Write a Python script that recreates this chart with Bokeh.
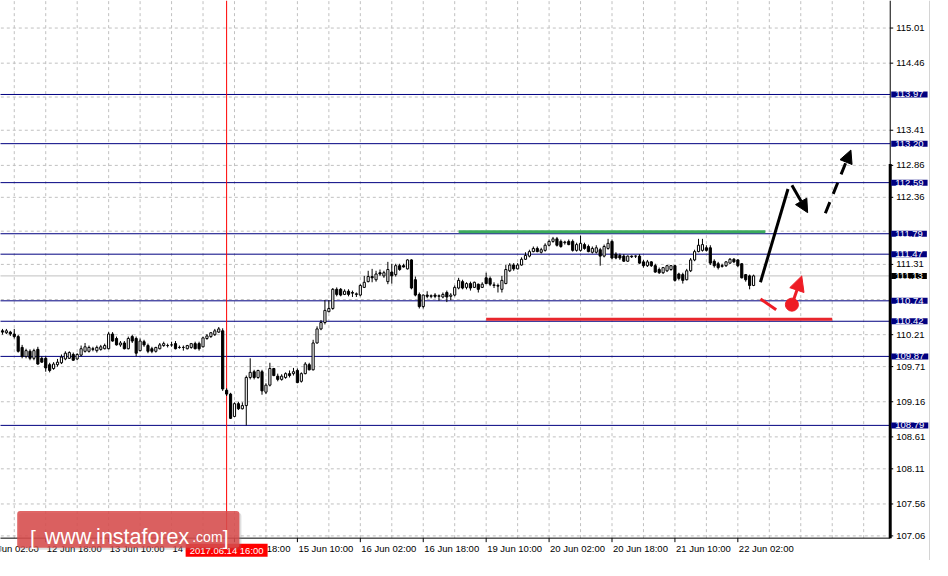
from bokeh.plotting import figure
from bokeh.models import Range1d, Label, Arrow, NormalHead, ColumnDataSource, BoxAnnotation
from bokeh.core.properties import value
from bokeh.embed import file_html
from bokeh.resources import INLINE

# ---------------- data (USD/JPY, H1 bars, bar index = hours from 12 Jun 02:00) -------------
first_bar = 5
opens = [110.27, 110.24, 110.25, 110.22, 110.18, 110.01, 109.87, 109.95, 109.84, 109.98,
         109.84, 109.84, 109.74, 109.68, 109.74, 109.77, 109.83, 109.84, 109.90, 109.83,
         109.89, 109.95, 109.95, 109.99, 109.96, 109.98, 109.99, 109.99, 110.22, 110.15,
         110.05, 110.08, 109.99, 110.18, 110.15, 109.96, 110.10, 110.04, 109.99, 109.95,
         109.99, 110.04, 110.04, 110.05, 110.07, 110.01, 110.01, 109.99, 110.01, 110.07,
         110.07, 110.02, 110.15, 110.18, 110.21, 110.25, 110.27, 109.34, 109.28, 108.93,
         109.13, 109.05, 109.10, 109.54, 109.63, 109.54, 109.63, 109.31, 109.42, 109.68,
         109.56, 109.51, 109.54, 109.60, 109.60, 109.65, 109.48, 109.60, 109.74, 109.66,
         110.08, 110.30, 110.40, 110.57, 110.62, 110.92, 110.92, 110.84, 110.89, 110.87,
         110.84, 110.83, 110.95, 111.04, 111.12, 111.07, 111.18, 111.13, 111.04, 111.19,
         111.15, 111.29, 111.29, 111.24, 111.38, 111.07, 110.84, 110.65, 110.83, 110.81,
         110.83, 110.81, 110.80, 110.87, 110.81, 110.83, 110.94, 111.04, 110.95, 111.01,
         110.95, 111.00, 110.95, 111.10, 111.09, 110.98, 110.98, 110.92, 111.01, 111.21,
         111.30, 111.24, 111.30, 111.39, 111.44, 111.51, 111.56, 111.50, 111.53, 111.61,
         111.67, 111.71, 111.67, 111.65, 111.67, 111.67, 111.53, 111.53, 111.62, 111.59,
         111.50, 111.50, 111.54, 111.44, 111.56, 111.67, 111.47, 111.45, 111.44, 111.36,
         111.44, 111.44, 111.44, 111.35, 111.29, 111.35, 111.29, 111.23, 111.18, 111.21,
         111.23, 111.29, 111.16, 111.15, 111.07, 111.21, 111.38, 111.51, 111.53, 111.57,
         111.57, 111.36, 111.32, 111.29, 111.29, 111.33, 111.39, 111.38, 111.32, 111.15,
         111.13, 110.98]
closes = [110.25, 110.27, 110.22, 110.18, 109.95, 109.87, 109.96, 109.84, 109.96, 109.75,
          109.78, 109.69, 109.65, 109.75, 109.78, 109.86, 109.92, 109.93, 109.81, 109.90,
          109.99, 110.02, 110.01, 109.98, 110.01, 110.02, 110.04, 110.22, 110.11, 110.05,
          110.08, 109.99, 110.15, 110.11, 109.92, 110.11, 110.05, 109.95, 109.95, 110.01,
          110.05, 110.07, 110.04, 110.05, 109.99, 110.01, 110.01, 110.04, 110.07, 109.99,
          109.99, 110.16, 110.19, 110.24, 110.27, 110.30, 109.36, 109.28, 108.90, 109.13,
          109.05, 109.10, 109.54, 109.62, 109.54, 109.65, 109.33, 109.42, 109.68, 109.57,
          109.51, 109.56, 109.60, 109.57, 109.63, 109.46, 109.60, 109.75, 109.66, 110.08,
          110.30, 110.40, 110.59, 110.62, 110.92, 110.84, 110.83, 110.89, 110.84, 110.86,
          110.85, 110.98, 111.03, 111.12, 111.10, 111.16, 111.16, 111.18, 111.23, 111.13,
          111.29, 111.23, 111.27, 111.38, 110.94, 110.83, 110.65, 110.83, 110.81, 110.82,
          110.81, 110.82, 110.84, 110.80, 110.83, 110.95, 111.06, 110.94, 111.01, 110.94,
          111.03, 110.92, 111.00, 111.01, 111.00, 110.99, 110.97, 111.06, 111.23, 111.30,
          111.24, 111.30, 111.39, 111.45, 111.51, 111.56, 111.51, 111.54, 111.61, 111.67,
          111.71, 111.61, 111.59, 111.66, 111.62, 111.53, 111.62, 111.64, 111.56, 111.51,
          111.56, 111.57, 111.44, 111.59, 111.64, 111.41, 111.41, 111.41, 111.36, 111.44,
          111.43, 111.44, 111.33, 111.29, 111.35, 111.29, 111.19, 111.18, 111.26, 111.29,
          111.29, 111.06, 111.09, 111.06, 111.21, 111.38, 111.51, 111.61, 111.62, 111.53,
          111.33, 111.29, 111.26, 111.28, 111.35, 111.39, 111.35, 111.29, 111.10, 111.07,
          110.98, 111.13]
highs = [110.30, 110.30, 110.27, 110.30, 110.21, 110.05, 109.99, 109.98, 109.99, 110.02,
         109.87, 109.87, 109.77, 109.78, 109.83, 109.90, 109.95, 109.95, 109.93, 109.92,
         110.04, 110.08, 110.04, 110.02, 110.04, 110.05, 110.07, 110.25, 110.25, 110.18,
         110.11, 110.11, 110.18, 110.21, 110.18, 110.15, 110.13, 110.07, 110.02, 110.02,
         110.08, 110.10, 110.07, 110.10, 110.11, 110.04, 110.04, 110.05, 110.08, 110.10,
         110.10, 110.18, 110.22, 110.25, 110.30, 110.33, 110.31, 109.37, 109.30, 109.15,
         109.16, 109.15, 109.57, 109.84, 109.66, 109.66, 109.66, 109.45, 109.77, 109.69,
         109.60, 109.59, 109.62, 109.65, 109.69, 109.68, 109.62, 109.78, 109.77, 110.13,
         110.34, 110.44, 110.75, 110.75, 110.94, 110.95, 110.94, 110.92, 110.92, 110.90,
         110.87, 111.00, 111.13, 111.21, 111.24, 111.21, 111.23, 111.21, 111.35, 111.32,
         111.32, 111.32, 111.32, 111.39, 111.39, 111.12, 110.87, 110.84, 110.89, 110.84,
         110.86, 110.84, 110.87, 110.90, 110.86, 110.98, 111.10, 111.07, 111.03, 111.04,
         111.04, 111.01, 111.03, 111.18, 111.12, 111.03, 111.01, 111.13, 111.30, 111.33,
         111.33, 111.33, 111.42, 111.50, 111.54, 111.59, 111.59, 111.57, 111.64, 111.70,
         111.74, 111.74, 111.70, 111.68, 111.70, 111.70, 111.65, 111.76, 111.65, 111.62,
         111.59, 111.61, 111.57, 111.62, 111.71, 111.70, 111.50, 111.48, 111.47, 111.45,
         111.45, 111.45, 111.47, 111.38, 111.38, 111.36, 111.32, 111.26, 111.27, 111.30,
         111.30, 111.30, 111.18, 111.18, 111.24, 111.41, 111.54, 111.71, 111.71, 111.61,
         111.61, 111.39, 111.35, 111.32, 111.36, 111.41, 111.41, 111.39, 111.33, 111.16,
         111.15, 111.15]
lows = [110.21, 110.22, 110.19, 110.15, 109.93, 109.84, 109.84, 109.81, 109.81, 109.74,
        109.77, 109.63, 109.62, 109.66, 109.71, 109.75, 109.81, 109.83, 109.80, 109.81,
        109.87, 109.93, 109.93, 109.95, 109.93, 109.96, 109.98, 109.98, 110.10, 110.04,
        110.02, 109.98, 109.98, 110.08, 109.87, 109.95, 110.02, 109.92, 109.92, 109.93,
        109.98, 110.02, 110.01, 110.02, 109.98, 109.99, 109.96, 109.98, 109.99, 109.98,
        109.96, 110.01, 110.13, 110.16, 110.19, 110.24, 109.33, 109.25, 108.89, 108.92,
        109.03, 109.04, 108.79, 109.51, 109.51, 109.52, 109.27, 109.28, 109.40, 109.56,
        109.48, 109.49, 109.52, 109.54, 109.57, 109.45, 109.46, 109.59, 109.65, 109.65,
        110.07, 110.28, 110.37, 110.56, 110.60, 110.81, 110.81, 110.83, 110.81, 110.80,
        110.80, 110.81, 110.94, 111.03, 111.03, 111.04, 111.13, 111.10, 111.00, 111.01,
        111.12, 111.21, 111.26, 111.23, 110.92, 110.81, 110.62, 110.62, 110.78, 110.78,
        110.78, 110.74, 110.78, 110.72, 110.75, 110.81, 110.92, 110.92, 110.92, 110.90,
        110.94, 110.87, 110.94, 111.00, 110.97, 110.94, 110.87, 110.87, 111.00, 111.19,
        111.21, 111.23, 111.29, 111.38, 111.42, 111.50, 111.50, 111.48, 111.51, 111.59,
        111.65, 111.59, 111.57, 111.62, 111.61, 111.51, 111.51, 111.51, 111.54, 111.50,
        111.48, 111.48, 111.29, 111.42, 111.54, 111.39, 111.39, 111.38, 111.35, 111.35,
        111.41, 111.41, 111.32, 111.26, 111.27, 111.27, 111.18, 111.16, 111.16, 111.19,
        111.21, 111.04, 111.06, 111.01, 111.06, 111.19, 111.36, 111.50, 111.51, 111.51,
        111.30, 111.26, 111.23, 111.26, 111.27, 111.32, 111.33, 111.27, 111.09, 111.04,
        110.92, 110.97]

x_tick_index = [0, 16, 32, 48, 64, 80, 96, 112, 128, 144, 160, 176, 192]
x_tick_labels = ["12 Jun 02:00", "12 Jun 18:00", "13 Jun 10:00", "14 Jun 02:00",
                 "14 Jun 18:00", "15 Jun 10:00", "16 Jun 02:00", "16 Jun 18:00",
                 "19 Jun 10:00", "20 Jun 02:00", "20 Jun 18:00", "21 Jun 10:00",
                 "22 Jun 02:00"]
x_grid_index = [0, 8, 16, 24, 32, 40, 48, 56, 64, 72, 80, 88, 96, 104, 112, 120, 128,
                136, 144, 152, 160, 168, 176, 184, 192, 200, 208, 216, 224]
y_tick_values = [107.06, 107.56, 108.11, 108.61, 109.16, 109.71, 110.21, 111.31,
                 112.36, 112.86, 113.41, 114.46, 115.01]
y_grid_values = [107.06, 107.56, 108.11, 108.61, 109.16, 109.71, 110.21, 110.76, 111.31,
                 111.83, 112.36, 112.86, 113.41, 113.93, 114.46, 115.01]
level_values = [113.97, 113.20, 112.59, 111.79, 111.47, 110.74, 110.42, 109.87, 108.79]
current_price = 111.13
event_bar = 62
event_text = "2017.06.14 16:00"

resistance_x = [121, 199]
resistance_y = [111.82, 111.82]
support_x = [128, 216]
support_y = [110.45, 110.45]
bull_leg_x = [197.75, 204.75]
bull_leg_y = [111.03, 112.49]
pullback = (205.75, 112.55, 209.75, 112.12)
breakout = (214.25, 112.11, 220.75, 113.10)
bear_leg_x = [197.75, 201.75]
bear_leg_y = [110.77, 110.60]
bear_point = (205.75, 110.68)
bear_arrow_tip = (208.25, 111.13)
scale_marker_top = 112.88

# chart area (bars / prices) inside the canvas; the rest holds the price and time scales
chart_x0, chart_x1 = 4.5, 230.75
chart_y0, chart_y1 = 107.025, 115.441
canvas_x1 = 241.5
canvas_y0 = 106.675
px_x = 932 / (canvas_x1 - chart_x0)          # pixels per bar
px_y = 560 / (chart_y1 - canvas_y0)          # pixels per yen

FONT = value("Liberation Sans")
FS = value("9.5px")

p = figure(width=932, height=560, x_range=Range1d(chart_x0, canvas_x1),
           y_range=Range1d(canvas_y0, chart_y1), output_backend="svg",
           toolbar_location=None, x_axis_location=None, y_axis_location=None,
           min_border=0, min_border_left=0, min_border_right=0,
           min_border_top=0, min_border_bottom=0)
p.outline_line_color = None
p.grid.visible = False
p.background_fill_color = "white"
p.border_fill_color = "white"

# dashed grid
p.segment(x0=x_grid_index, x1=x_grid_index, y0=[chart_y0] * len(x_grid_index),
          y1=[chart_y1] * len(x_grid_index), line_color="#c0c0c0", line_dash="3 3", line_width=1)
p.segment(x0=[0] * len(y_grid_values), x1=[chart_x1] * len(y_grid_values),
          y0=y_grid_values, y1=y_grid_values, line_color="#c0c0c0", line_dash="3 3", line_width=1)

# level lines and current price line
p.segment(x0=[0] * len(level_values), x1=[chart_x1] * len(level_values),
          y0=level_values, y1=level_values, line_color="#000080", line_width=1)
p.segment(x0=[0], x1=[chart_x1], y0=[current_price], y1=[current_price],
          line_color="#c0c0c0", line_width=1)

# event vertical line
p.segment(x0=[event_bar], x1=[event_bar], y0=[chart_y0 - 5 / px_y], y1=[chart_y1],
          line_color="#ff0000", line_width=1)

# candles
idx = list(range(first_bar, first_bar + len(opens)))
src = ColumnDataSource(dict(
    x=idx, h=highs, l=lows,
    top=[max(a, b) for a, b in zip(opens, closes)],
    bot=[min(a, b) for a, b in zip(opens, closes)],
    fill=["white" if c >= o else "black" for o, c in zip(opens, closes)],
))
p.segment(x0="x", y0="l", x1="x", y1="h", source=src, line_color="black", line_width=1)
p.vbar(x="x", width=0.55, top="top", bottom="bot", source=src,
       fill_color="fill", line_color="black", line_width=1)

# analysis drawings
p.line(resistance_x, resistance_y, line_color="#3aaa5c", line_width=3)
p.line(support_x, support_y, line_color="#e8262d", line_width=3)
p.line(bull_leg_x, bull_leg_y, line_color="black", line_width=3)
p.add_layout(Arrow(x_start=pullback[0], y_start=pullback[1], x_end=pullback[2], y_end=pullback[3],
                   line_color="black", line_width=3,
                   end=NormalHead(size=13, fill_color="black", line_color="black")))
p.add_layout(Arrow(x_start=breakout[0], y_start=breakout[1], x_end=breakout[2], y_end=breakout[3],
                   line_color="black", line_width=3, line_dash="12 9",
                   end=NormalHead(size=13, fill_color="black", line_color="black")))
p.line(bear_leg_x, bear_leg_y, line_color="#ee1c25", line_width=3)
p.add_layout(Arrow(x_start=bear_point[0], y_start=bear_point[1],
                   x_end=bear_arrow_tip[0], y_end=bear_arrow_tip[1],
                   line_color="#ee1c25", line_width=3,
                   end=NormalHead(size=15, fill_color="#ee1c25", line_color="#ee1c25")))
p.scatter([bear_point[0]], [bear_point[1]], size=13, marker="circle",
          fill_color="#ee1c25", line_color="#ee1c25")

# ---- price scale (right) ----
p.segment(x0=[chart_x1], x1=[chart_x1], y0=[chart_y0], y1=[chart_y1],
          line_color="black", line_width=1)
p.segment(x0=[chart_x1], x1=[chart_x1], y0=[chart_y0], y1=[scale_marker_top],
          line_color="black", line_width=3)
p.segment(x0=[chart_x1] * len(y_tick_values), x1=[chart_x1 + 3 / px_x] * len(y_tick_values),
          y0=y_tick_values, y1=y_tick_values, line_color="black", line_width=1)
p.text(x=[chart_x1] * len(y_tick_values), y=y_tick_values,
       text=[f"{v:.2f}" for v in y_tick_values], x_offset=6,
       text_font=FONT, text_font_size=FS, text_color="black",
       text_align="left", text_baseline="middle")
for lv in level_values + [current_price]:
    p.add_layout(Label(x=chart_x1, y=lv, x_offset=1, text=f"{lv:.2f}",
                       text_align="left", text_baseline="middle",
                       text_font="Liberation Sans", text_font_size="9.5px", text_color="white",
                       background_fill_color="black" if lv == current_price else "#000080",
                       padding=(4, 0)))
# light border at the right edge
p.segment(x0=[canvas_x1 - 3 / px_x], x1=[canvas_x1 - 3 / px_x], y0=[canvas_y0], y1=[chart_y1],
          line_color="#d4d4d4", line_width=1)

# ---- time scale (bottom) ----
p.segment(x0=[0], x1=[chart_x1], y0=[chart_y0], y1=[chart_y0], line_color="black", line_width=1)
p.segment(x0=x_tick_index, x1=x_tick_index, y0=[chart_y0] * len(x_tick_index),
          y1=[chart_y0 - 4 / px_y] * len(x_tick_index), line_color="black", line_width=1)
p.text(x=x_tick_index, y=[chart_y0 - 5 / px_y] * len(x_tick_index), text=x_tick_labels,
       x_offset=1, text_font=FONT, text_font_size=FS, text_color="black",
       text_align="left", text_baseline="top")

# event time label
p.add_layout(Label(x=event_bar, y=chart_y0 - 12 / px_y, text=event_text, text_align="center",
                   text_baseline="middle", text_font="Liberation Sans", text_font_size="9.5px",
                   text_color="white", background_fill_color="#ff0000", padding=(4, 1)))

# watermark
wm_left, wm_right, wm_top, wm_bottom = 8.75, 65.25, 107.45, 106.873
wm_baseline = 107.04
p.add_layout(BoxAnnotation(left=wm_left + 2 / px_x, right=wm_right + 2 / px_x,
                           top=wm_top - 2 / px_y, bottom=wm_bottom - 2 / px_y,
                           fill_color="#808080", fill_alpha=0.25, line_color=None,
                           border_radius=3))
p.add_layout(BoxAnnotation(left=wm_left, right=wm_right, top=wm_top, bottom=wm_bottom,
                           fill_color="#d94a4a", fill_alpha=0.85, line_color=None,
                           border_radius=3))
for tx, t, fs in [(12.0, "[", "21px"), (15.75, "www.instaforex", "21.5px"),
                  (53.25, ".com", "14px"), (61.0, "]", "21px")]:
    p.add_layout(Label(x=tx, y=wm_baseline, text=t, text_align="left",
                       text_baseline="alphabetic", text_font="Liberation Sans",
                       text_font_size=fs, text_color="white"))

open("out.html", "w").write(file_html(p, INLINE))
